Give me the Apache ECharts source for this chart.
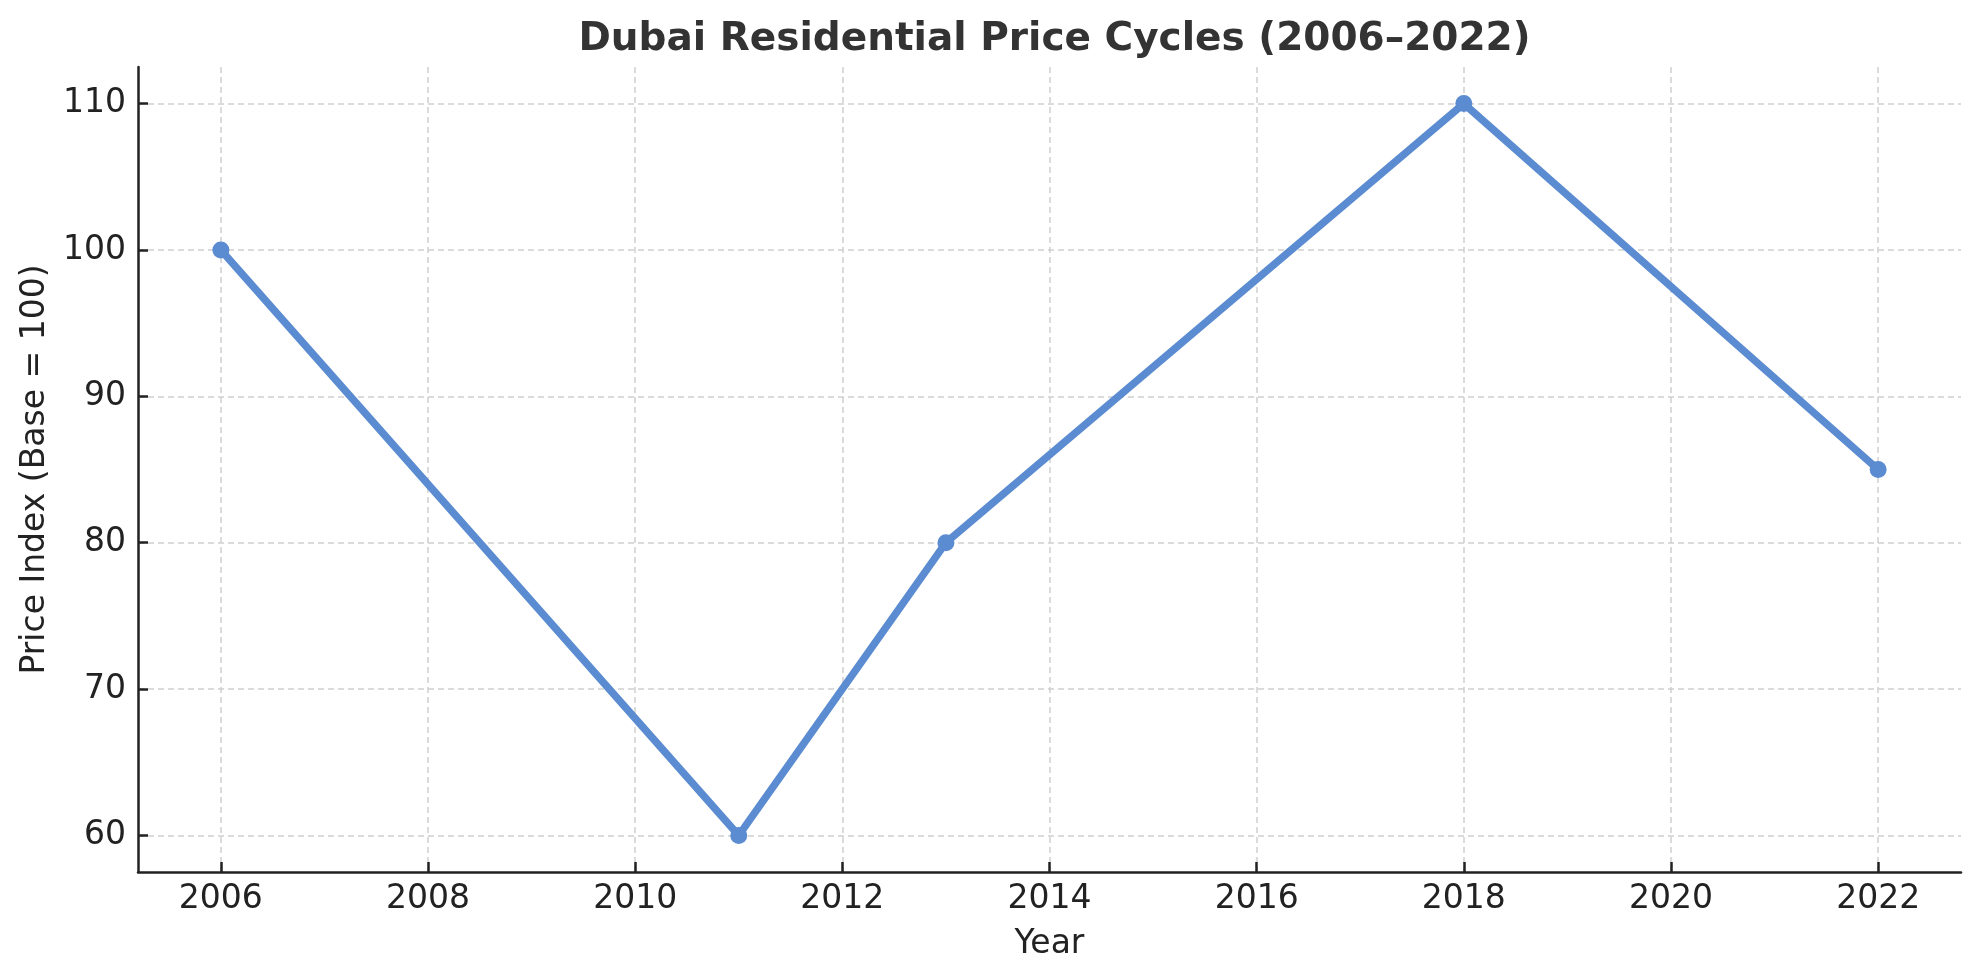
<!DOCTYPE html>
<html>
<head>
<meta charset="utf-8">
<script src="https://cdn.jsdelivr.net/npm/echarts@6/dist/echarts.min.js"></script>
<style>
html,body{margin:0;padding:0;background:#fff;}
#chart{width:1979px;height:980px;}
</style>
</head>
<body>
<div id="chart"></div>
<script>
const years = [2006, 2011, 2013, 2018, 2022];
const priceIndex = [100, 60, 80, 110, 85];
const xTicks = [2006, 2008, 2010, 2012, 2014, 2016, 2018, 2020, 2022];
const yTicks = [60, 70, 80, 90, 100, 110];

const FONT = 'DejaVu Sans';
const chart = echarts.init(document.getElementById('chart'), null, {renderer: 'canvas'});
const axisLineStyle = {color: '#222', width: 2.5};
const gridLine = {show: true, lineStyle: {color: '#cfcfcf', width: 1.5, type: [6, 4]}};

chart.setOption({
  backgroundColor: '#fff',
  animation: false,
  title: {
    text: 'Dubai Residential Price Cycles (2006–2022)',
    left: 1049.5, textAlign: 'center', top: 15,
    textStyle: {fontFamily: FONT, fontSize: 39, fontWeight: 'bold', color: '#333'}
  },
  grid: {left: 138, right: 18, top: 67, bottom: 108, containLabel: false},
  xAxis: {
    type: 'value', min: 2005.2, max: 2022.8,
    name: 'Year', nameLocation: 'middle', nameGap: 56,
    nameTextStyle: {fontFamily: FONT, fontSize: 33, color: '#222'},
    axisLine: {show: true, onZero: false, lineStyle: axisLineStyle},
    axisTick: {show: true, inside: true, length: 10, lineStyle: {color: '#222', width: 2.5}, customValues: xTicks},
    axisLabel: {fontFamily: FONT, fontSize: 33, color: '#222', margin: 11, customValues: xTicks, formatter: v => String(v)},
    splitLine: gridLine
  },
  yAxis: {
    type: 'value', min: 57.5, max: 112.5,
    name: 'Price Index (Base = 100)', nameLocation: 'middle', nameGap: 84,
    nameTextStyle: {fontFamily: FONT, fontSize: 33, color: '#222'},
    axisLine: {show: true, onZero: false, lineStyle: axisLineStyle},
    axisTick: {show: true, inside: true, length: 10, lineStyle: {color: '#222', width: 2.5}, customValues: yTicks},
    axisLabel: {fontFamily: FONT, fontSize: 33, color: '#222', margin: 12, customValues: yTicks},
    splitLine: gridLine
  },
  series: [{
    type: 'line',
    data: years.map((y, i) => [y, priceIndex[i]]),
    symbol: 'circle', symbolSize: 17,
    lineStyle: {color: '#5b8bd0', width: 7.5},
    itemStyle: {color: '#5b8bd0'},
    z: 5
  }]
});
</script>
</body>
</html>
